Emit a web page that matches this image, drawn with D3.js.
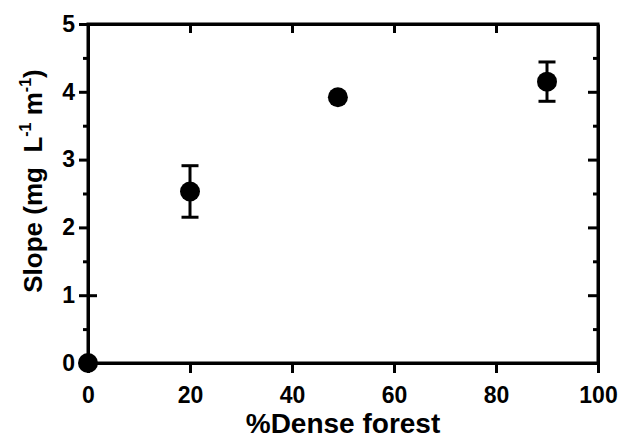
<!DOCTYPE html>
<html>
<head>
<meta charset="utf-8">
<script src="https://cdn.jsdelivr.net/npm/d3@7"></script>
<style>
  html, body { margin: 0; padding: 0; background: #fff; }
  svg text { font-family: "Liberation Sans", Arial, sans-serif; font-weight: bold; fill: #000; }
</style>
</head>
<body>
<svg id="chart" width="623" height="439"></svg>
<script>
// Data: slope versus percentage of dense forest
const forestPct = [0, 20, 49, 90];
const slopeMean = [0, 2.53, 3.92, 4.15];
const slopeErr  = [0, 0.38, 0, 0.29];

const xTicks = [0, 20, 40, 60, 80, 100];
const yTicks = [0, 1, 2, 3, 4, 5];
const yMinorTicks = [0.5, 1.5, 2.5, 3.5, 4.5];
const topTicks = [20, 40, 60, 80];

const svg = d3.select("#chart");
const plotL = 88, plotR = 598, plotT = 24, plotB = 363;

const x = d3.scaleLinear().domain([0, 100]).range([plotL, plotR]);
const y = d3.scaleLinear().domain([0, 5]).range([plotB, plotT]);

const axisW = 3;

function styleAxis(g) {
  g.selectAll("path.domain").attr("stroke", "#000").attr("stroke-width", axisW);
  g.selectAll(".tick line").attr("stroke", "#000").attr("stroke-width", axisW);
  g.selectAll(".tick text").attr("font-size", 23).attr("fill", "#000")
    .attr("font-family", "Liberation Sans, Arial, sans-serif").attr("font-weight", "bold");
}

// Bottom axis with labels
const gx = svg.append("g").attr("transform", `translate(0,${plotB})`)
  .call(d3.axisBottom(x).tickValues(xTicks).tickSize(10).tickSizeOuter(0).tickPadding(14).tickFormat(d3.format("d")));
styleAxis(gx);

// Top frame with inward ticks
const gt = svg.append("g").attr("transform", `translate(0,${plotT})`)
  .call(d3.axisBottom(x).tickValues(topTicks).tickSize(9).tickSizeOuter(0).tickFormat(""));
styleAxis(gt);

// Left axis: major ticks with labels, minor ticks shorter
const gy = svg.append("g").attr("transform", `translate(${plotL},0)`)
  .call(d3.axisLeft(y).tickValues(yTicks).tickSize(9).tickSizeOuter(0).tickPadding(4).tickFormat(d3.format("d")));
styleAxis(gy);
const gyMinor = svg.append("g").attr("transform", `translate(${plotL},0)`)
  .call(d3.axisLeft(y).tickValues(yMinorTicks).tickSize(5).tickSizeOuter(0).tickFormat(""));
styleAxis(gyMinor);
gyMinor.select("path.domain").remove();
// short inner mark at 1 on the left axis
const gyInner = svg.append("g").attr("transform", `translate(${plotL},0)`)
  .call(d3.axisRight(y).tickValues([1]).tickSize(9).tickSizeOuter(0).tickFormat(""));
styleAxis(gyInner);
gyInner.select("path.domain").remove();

// Right frame with inward ticks
const gr = svg.append("g").attr("transform", `translate(${plotR},0)`)
  .call(d3.axisLeft(y).tickValues([1, 2, 3, 4]).tickSize(10).tickSizeOuter(0).tickFormat(""));
styleAxis(gr);
const grMinor = svg.append("g").attr("transform", `translate(${plotR},0)`)
  .call(d3.axisLeft(y).tickValues(yMinorTicks).tickSize(5).tickSizeOuter(0).tickFormat(""));
styleAxis(grMinor);
grMinor.select("path.domain").remove();

// Square the frame corners
svg.append("path")
  .attr("d", `M${plotL},${plotB}V${plotT}H${plotR}V${plotB}H${plotL}`)
  .attr("fill", "none").attr("stroke", "#000").attr("stroke-width", axisW)
  .attr("stroke-linejoin", "miter").attr("stroke-linecap", "square");

// Error bars
const pts = forestPct.map((v, i) => ({ x: v, y: slopeMean[i], e: slopeErr[i] }));
const capHalf = 8.5;
const eb = svg.append("g").selectAll("g").data(pts.filter(d => d.e > 0)).join("g");
eb.append("line")
  .attr("x1", d => x(d.x)).attr("x2", d => x(d.x))
  .attr("y1", d => y(d.y - d.e)).attr("y2", d => y(d.y + d.e))
  .attr("stroke", "#000").attr("stroke-width", 3);
eb.append("line")
  .attr("x1", d => x(d.x) - capHalf).attr("x2", d => x(d.x) + capHalf)
  .attr("y1", d => y(d.y + d.e)).attr("y2", d => y(d.y + d.e))
  .attr("stroke", "#000").attr("stroke-width", 3);
eb.append("line")
  .attr("x1", d => x(d.x) - capHalf).attr("x2", d => x(d.x) + capHalf)
  .attr("y1", d => y(d.y - d.e)).attr("y2", d => y(d.y - d.e))
  .attr("stroke", "#000").attr("stroke-width", 3);

// Points
svg.append("g").selectAll("circle").data(pts).join("circle")
  .attr("cx", d => x(d.x)).attr("cy", d => y(d.y)).attr("r", 10)
  .attr("fill", "#000");

// Axis titles
svg.append("text")
  .attr("x", (plotL + plotR) / 2).attr("y", 433)
  .attr("text-anchor", "middle").attr("font-size", 28)
  .text("%Dense forest");

const yt = svg.append("text")
  .attr("transform", "translate(42,181) rotate(-90)")
  .attr("text-anchor", "middle").attr("font-size", 26);
yt.append("tspan").text("Slope (mg\u00a0\u00a0L");
yt.append("tspan").attr("font-size", 16).attr("dy", -11).text("-1");
yt.append("tspan").attr("dy", 11).text(" m");
yt.append("tspan").attr("font-size", 16).attr("dy", -11).text("-1");
yt.append("tspan").attr("dy", 11).text(")");
</script>
</body>
</html>
